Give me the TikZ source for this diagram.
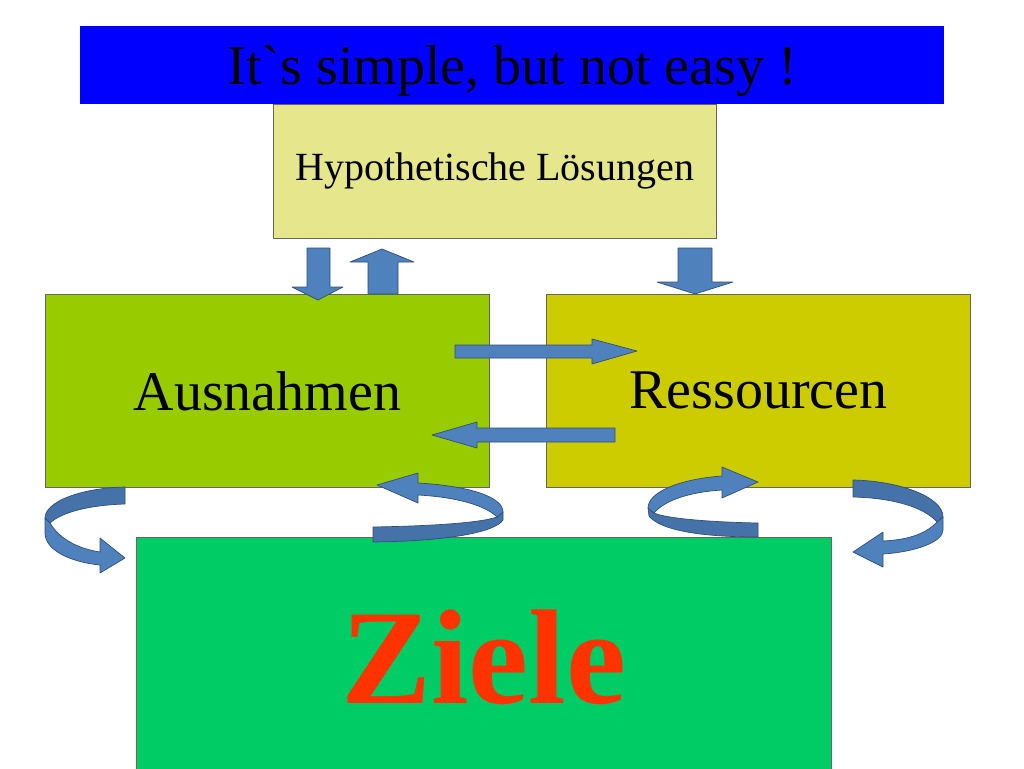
\documentclass[tikz,border=0pt]{standalone}
\usepackage{fontspec}
\setmainfont{Liberation Serif}
\newfontfamily\bannerfont[Ligatures=TeXOff]{Liberation Serif}
\definecolor{bannerblue}{HTML}{0000FF}
\definecolor{hypoyellow}{HTML}{E6E68C}
\definecolor{ausgreen}{HTML}{99CC00}
\definecolor{resyellow}{HTML}{CCCC00}
\definecolor{zielgreen}{HTML}{00CC66}
\definecolor{zielred}{HTML}{FF3300}
\definecolor{arrowblue}{HTML}{4F81BD}
\definecolor{arrowback}{HTML}{4672AA}
\definecolor{arrowline}{HTML}{2F4F7A}
\tikzset{
    box/.style={draw=black!60,line width=0.7pt,inner sep=0pt,anchor=north west},
    barrow/.style={fill=arrowblue,draw=arrowline,line width=0.7pt,line join=round},
    bback/.style={fill=arrowback,draw=arrowline,line width=0.7pt,line join=round},
}
\begin{document}
\begin{tikzpicture}[x=1pt,y=-1pt]
    \useasboundingbox[fill=white] (0,0) rectangle (1024,768);
    % boxes
    \node[box,draw=none,fill=bannerblue,text depth=0pt,minimum width=864pt,minimum height=78pt] (banner) at (80,26)
        {\bannerfont\fontsize{56}{60}\selectfont It`s simple, but not easy !};
    \node[box,fill=hypoyellow,minimum width=443pt,minimum height=134pt] (hypo) at (273,104)
        {\fontsize{40}{44}\selectfont Hypothetische Lösungen};
    \node[box,fill=ausgreen,minimum width=444pt,minimum height=193pt] (aus) at (45,294)
        {\fontsize{56}{60}\selectfont Ausnahmen};
    \node[box,fill=resyellow,minimum width=424pt,minimum height=193pt] (res) at (546,294)
        {\fontsize{56}{60}\selectfont Ressourcen};
    \node[box,fill=zielgreen,minimum width=695pt,minimum height=240pt] (ziele) at (136,537)
        {\fontsize{135}{140}\selectfont\bfseries\color{zielred}Ziele};
    % straight arrows
    \draw[barrow] (307,248) -- (330,248) -- (330,287) -- (343,287) -- (318,300)
        -- (292,287) -- (307,287) -- cycle;
    \draw[barrow] (368,294) -- (368,262) -- (350,262) -- (382,249) -- (414,262)
        -- (398,262) -- (398,294) -- cycle;
    \draw[barrow] (678,248) -- (712,248) -- (712,282) -- (733,282) -- (695,294)
        -- (657,282) -- (678,282) -- cycle;
    \draw[barrow] (455,345) -- (592,345) -- (592,339) -- (637,351) -- (592,364)
        -- (592,358) -- (455,358) -- cycle;
    \draw[barrow] (615,428) -- (477,428) -- (477,422) -- (432,435) -- (477,448)
        -- (477,442) -- (615,442) -- cycle;
    % curved arrows
    \draw[bback] (125,487) .. controls (80,488) and (45,502) .. (45,518)
        -- (50,523) .. controls (62,512) and (90,505) .. (125,504) -- cycle;
    \draw[barrow] (50,523) .. controls (60,540) and (80,549) .. (100,552)
        -- (100,538) -- (125,558) -- (100,573) -- (100,565)
        .. controls (70,562) and (45,550) .. (45,533) -- (45,518) -- cycle;
    \draw[bback] (373,527) .. controls (430,526) and (480,523) .. (497,517)
        -- (503,512) -- (503,520) .. controls (495,532) and (450,541) .. (373,542) -- cycle;
    \draw[barrow] (497,517) .. controls (485,505) and (455,497) .. (418,495)
        -- (418,503) -- (377,485) -- (418,473) -- (418,483)
        .. controls (470,486) and (503,497) .. (503,512) -- cycle;
    \draw[bback] (758,523) .. controls (705,522) and (665,518) .. (654,513)
        -- (648,508) -- (649,516) .. controls (660,530) and (700,537) .. (758,537) -- cycle;
    \draw[barrow] (654,513) .. controls (665,500) and (690,492) .. (722,490)
        -- (722,498) -- (758,482) -- (722,467) -- (722,476)
        .. controls (680,479) and (648,492) .. (648,508) -- cycle;
    \draw[bback] (853,480) .. controls (900,481) and (943,497) .. (943,517)
        -- (937,522) .. controls (925,508) and (895,498) .. (853,497) -- cycle;
    \draw[barrow] (937,522) .. controls (925,535) and (905,540) .. (883,541)
        -- (883,532) -- (853,552) -- (883,567) -- (883,554)
        .. controls (915,552) and (943,542) .. (943,530) -- (943,517) -- cycle;
\end{tikzpicture}
\end{document}
